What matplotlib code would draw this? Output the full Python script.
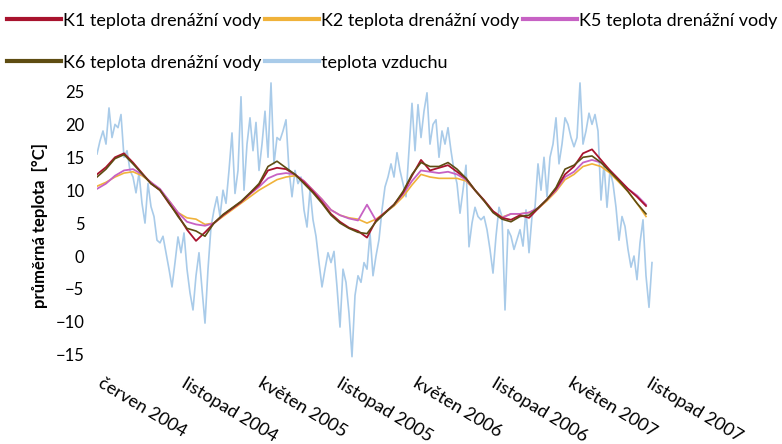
import matplotlib.pyplot as plt

# weekly air temperature, June 2004 - Nov 2007
air = [15.5, 17.5, 19, 17, 22.5, 18, 20, 19.5, 21.5, 15, 16, 13, 12, 9.6, 12.6, 8, 5, 11, 7.5, 6,
       2.4, 2, 3, 0.5, -2, -4.7, -1, 2.9, 0.5, 3.5, -2, -5.6, -8.2, -3, 0.5, -5, -10.2, -2, 4.4, 7,
       9, 6, 10, 8, 13, 18.7, 9.5, 13, 24.2, 10, 17, 21, 16, 20.3, 13, 17, 22, 15, 26.3, 14,
       18, 17.6, 19, 20.7, 13, 9, 13, 11, 12, 7, 4.4, 10, 5.5, 3, -1, -4.7, -2, 0.5, -1, 0.7,
       -4.7, -10.8, -2, -4, -8.7, -15.3, -6, -3, -4, -1, -2, 3.5, -3, 0, 2.5, 7, 10.5, 12, 14, 12,
       15.7, 13, 11, 9, 16, 23.2, 16, 23, 18, 22, 24.8, 17, 20, 20.7, 15, 19, 17, 19.5, 16, 13,
       11, 6.5, 10, 13.8, 1.4, 5, 7.4, 6, 5.5, 6, 4, 1, -2.6, 3, 7.4, 6, -8.2, 4, 3, 1,
       2.5, 4, 1.5, 7, 0.5, 6, 7.4, 14, 10, 15, 9, 15, 17, 21, 14, 17, 21, 20, 18, 16.6,
       18, 26.3, 17, 19, 21.7, 20, 21.5, 19, 8.5, 14, 7.4, 13, 11, 7.4, 2.4, 6, 4.5, 1, -1.7, 0,
       -3.6, 2, 5.5, -3, -7.8, -1]
weeks = list(range(len(air)))

# drainage water temperatures, read every third week
drain_weeks = list(range(0, 186, 3))
k1 = [12.4, 13.5, 15.0, 15.6, 14.2, 12.6, 11.0, 10.0, 8.0, 6.2, 4.0, 2.3, 3.6, 5.0, 6.2, 7.2,
      8.2, 9.5, 10.8, 13.0, 13.4, 13.2, 12.4, 11.2, 9.8, 8.2, 6.4, 5.2, 4.3, 3.8, 2.8, 5.4,
      6.6, 7.8, 9.6, 12.2, 14.6, 13.0, 13.4, 13.8, 12.8, 11.8, 10.0, 8.5, 6.8, 5.8, 5.5, 6.2,
      5.8, 7.2, 8.6, 10.2, 12.4, 13.6, 15.6, 16.2, 14.6, 13.0, 11.6, 10.2, 9.0, 7.6]
k2 = [10.6, 11.2, 12.0, 12.6, 12.8, 12.2, 11.2, 10.0, 8.4, 6.6, 5.8, 5.6, 4.8, 5.0, 6.0, 7.0,
      8.0, 9.0, 10.0, 10.8, 11.6, 12.0, 12.2, 11.4, 10.0, 8.6, 7.0, 6.2, 5.8, 5.6, 5.0, 5.6,
      6.6, 7.6, 9.0, 10.8, 12.4, 12.0, 11.8, 11.8, 11.8, 11.4, 10.0, 8.4, 6.8, 5.9, 6.4, 6.4,
      6.6, 7.2, 8.4, 9.8, 11.6, 12.4, 13.6, 14.0, 13.6, 12.6, 11.2, 9.8, 8.0, 6.0]
k5 = [10.2, 11.0, 12.2, 13.0, 13.2, 12.4, 11.2, 10.2, 8.4, 6.6, 5.2, 4.8, 4.6, 5.0, 6.2, 7.2,
      8.2, 9.4, 10.5, 11.8, 12.4, 12.6, 12.4, 11.4, 10.0, 8.6, 7.0, 6.2, 5.7, 5.4, 7.8, 5.4,
      6.6, 7.8, 9.4, 11.4, 13.0, 12.8, 12.6, 12.8, 12.4, 11.6, 10.0, 8.4, 6.8, 5.8, 6.4, 6.4,
      6.6, 7.3, 8.6, 10.0, 12.0, 12.8, 14.2, 14.6, 14.2, 13.0, 11.6, 10.2, 9.2, 7.8]
k6 = [12.0, 13.2, 14.8, 15.4, 14.0, 12.5, 11.0, 10.0, 8.1, 6.0, 4.2, 3.8, 3.0, 5.0, 6.3, 7.3,
      8.3, 9.6, 11.0, 13.6, 14.4, 13.4, 12.4, 11.0, 9.6, 8.0, 6.2, 5.0, 4.2, 3.6, 3.4, 5.2,
      6.5, 7.8, 9.8, 12.4, 14.2, 13.6, 13.6, 14.2, 13.2, 11.8, 10.0, 8.4, 6.6, 5.6, 5.2, 6.0,
      6.2, 7.3, 8.6, 10.4, 13.2, 13.8, 15.0, 15.2, 14.2, 12.8, 11.4, 9.8, 8.0, 6.4]

tick_weeks = [2.3, 30, 55.7, 81.7, 107.3, 133.3, 159, 185]
tick_labels = ["červen 2004", "listopad 2004", "květen 2005", "listopad 2005",
               "květen 2006", "listopad 2006", "květen 2007", "listopad 2007"]

plt.rcParams['font.family'] = ['Lato', 'DejaVu Sans']

fig = plt.figure(figsize=(7.82, 4.44), dpi=100)
ax = fig.add_axes([97 / 782, 1 - 361.3 / 444, 558 / 782, (361.3 - 81.6) / 444])

ax.plot(weeks, air, color='#a9cbe9', lw=1.2, zorder=1)
l1, = ax.plot(drain_weeks, k1, color='#a8132e', lw=1.3, zorder=3)
l2, = ax.plot(drain_weeks, k2, color='#f0b23a', lw=1.2, zorder=2)
l5, = ax.plot(drain_weeks, k5, color='#c762c4', lw=1.3, zorder=2)
l6, = ax.plot(drain_weeks, k6, color='#5e4c12', lw=1.2, zorder=3)

ax.set_xlim(0, 186)
ax.set_ylim(-16, 26.5)
ax.set_yticks(range(-15, 30, 5))
ax.set_xticks(tick_weeks)
ax.set_xticklabels(tick_labels, rotation=-31, ha='left', va='top', rotation_mode='anchor')
ax.tick_params(axis='x', length=0, pad=10, labelsize=13)
ax.tick_params(axis='y', length=0, pad=9, labelsize=12)
for s in ax.spines.values():
    s.set_visible(False)

fig.text(40 / 782, 1 - 226 / 444, "průměrná teplota  [°C]", rotation=90,
         ha='center', va='center', fontsize=12, fontweight='bold')

air_h = plt.Line2D([], [], color='#a9cbe9', lw=3)
handles = [plt.Line2D([], [], color=l.get_color(), lw=3) for l in (l1, l6, l2)] + [air_h] + \
          [plt.Line2D([], [], color=l5.get_color(), lw=3)]
labels = ["K1 teplota drenážní vody", "K6 teplota drenážní vody", "K2 teplota drenážní vody",
          "teplota vzduchu", "K5 teplota drenážní vody"]
fig.legend(handles, labels, ncol=3, loc='upper left', bbox_to_anchor=(0.0, 0.988),
           frameon=False, fontsize=13, handlelength=3.0, handletextpad=0.1,
           columnspacing=0.2, labelspacing=1.45, borderpad=0.2, borderaxespad=0.2)

fig.savefig("out.png", dpi=100)
